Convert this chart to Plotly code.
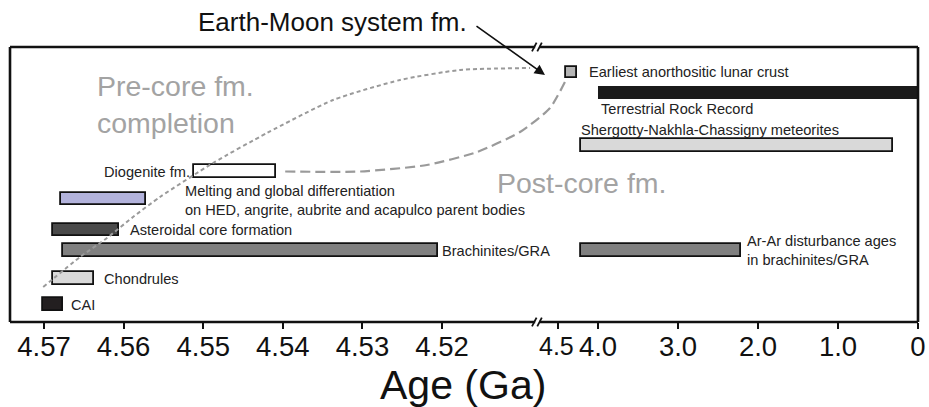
import plotly.graph_objects as go

# ---- records on the early (4.57-4.51 Ga) segment ----
early_names = ["CAI", "Chondrules", "Brachinites/GRA", "Asteroidal core formation",
               "Melting and global differentiation<br>on HED, angrite, aubrite and acapulco parent bodies",
               "Diogenite fm."]
early_start = [4.5701, 4.5689, 4.5676, 4.5689, 4.5679, 4.5512]
early_end = [4.5676, 4.5637, 4.5205, 4.5606, 4.5572, 4.5409]

# ---- records on the late (4.6-0 Ga) segment ----
late_names = ["Ar-Ar disturbance ages<br>in brachinites/GRA",
              "Shergotty-Nakhla-Chassigny meteorites",
              "Terrestrial Rock Record",
              "Earliest anorthositic lunar crust"]
late_start = [4.21, 4.21, 4.00, 4.40]
late_end = [2.21, 0.31, 0.00, 4.26]

# tick labels (4.5 is set separately, squeezed against 4.0)
early_ticks = [4.57, 4.56, 4.55, 4.54, 4.53, 4.52]
early_ticktext = ["4.57", "4.56", "4.55", "4.54", "4.53", "4.52"]
late_ticks = [4.5, 4.0, 3.0, 2.0, 1.0, 0.0]
late_ticktext = ["", "4.0", "3.0", "2.0", "1.0", "0"]
break_tick_text = "4.5"

# ---- layout: vertical lanes, colours ----
early_lanes = [17.5, 43.5, 71.5, 92, 123, 150.5]
late_lanes = [71.5, 176.5, 229.5, 250]
early_colors = ["#231f20", "#d9d9d9", "#808080", "#4a4a4a", "#b3b3dc", "#ffffff"]
late_colors = ["#808080", "#d9d9d9", "#1a1a1a", "#b5b5b5"]
late_heights = [12.5, 12.5, 13, 11]
late_linew = [1.8, 1.8, 0, 1.8]

FONT = "Liberation Sans, Arial, Helvetica, sans-serif"
GREY_TXT = "#a3a3a3"
CURVE = "#9a9a9a"
SMALL = 14.6
TICK_SIZE = 27.5

X1_DOMAIN = [0.0, 0.5804]
X1_RANGE = [4.57427, 4.50807]
X2_DOMAIN = [0.5892, 1.0]
X2_RANGE = [4.6625, 0.0]
Y_RANGE = [0, 275]


def paper_x(age, seg):
    dom, rng = (X1_DOMAIN, X1_RANGE) if seg == 1 else (X2_DOMAIN, X2_RANGE)
    return dom[0] + (age - rng[0]) / (rng[1] - rng[0]) * (dom[1] - dom[0])


fig = go.Figure()

fig.add_trace(go.Bar(
    orientation="h", y=early_lanes,
    x=[e - s for s, e in zip(early_start, early_end)], base=early_start,
    width=12.5, marker=dict(color=early_colors, line=dict(color="#111", width=1.8)),
    xaxis="x", yaxis="y", hoverinfo="skip", showlegend=False))

fig.add_trace(go.Bar(
    orientation="h", y=late_lanes,
    x=[e - s for s, e in zip(late_start, late_end)], base=late_start,
    width=late_heights, marker=dict(color=late_colors, line=dict(color="#111", width=late_linew)),
    xaxis="x2", yaxis="y", hoverinfo="skip", showlegend=False))

# guide curves, given as (segment, age, lane) waypoints
dotted_path = [(1, 4.5701, 35), (1, 4.56548, 65), (1, 4.56209, 84), (1, 4.55882, 105),
               (1, 4.55543, 125), (1, 4.54877, 159), (1, 4.54198, 189), (1, 4.53369, 222),
               (1, 4.52528, 242), (1, 4.51774, 252), (1, 4.50894, 254)]
dashed_path = [(1, 4.5397, 150.5), (1, 4.5303, 150.5), (1, 4.5219, 157), (1, 4.5156, 170),
               (1, 4.5102, 190), (2, 4.60, 214), (2, 4.3875, 244)]

for path, dash, width in [(dotted_path, "4px,3px", 2), (dashed_path, "10px,5px", 2.2)]:
    fig.add_trace(go.Scatter(
        x=[paper_x(a, s) for s, a, _ in path], y=[l for _, _, l in path],
        mode="lines", line=dict(color=CURVE, width=width, dash=dash, shape="spline", smoothing=0.6),
        xaxis="x3", yaxis="y", hoverinfo="skip", showlegend=False))

annotations = []


def label(text, x, y, xref, xanchor="left", xshift=0, yshift=0, size=SMALL, color="#222"):
    annotations.append(dict(text=text, x=x, y=y, xref=xref, yref="y", xanchor=xanchor,
                            yanchor="middle", xshift=xshift, yshift=yshift, showarrow=False,
                            align="left", font=dict(family=FONT, size=size, color=color)))


label(early_names[0], early_end[0], early_lanes[0], "x", xshift=6)
label(early_names[1], early_end[1], early_lanes[1], "x", xshift=8)
label(early_names[2], early_end[2], early_lanes[2], "x", xshift=2)
label(early_names[3], early_end[3], early_lanes[3], "x", xshift=9)
label(early_names[4], early_end[4], early_lanes[4], "x", xshift=37, yshift=-1)
label(early_names[5], early_start[5], early_lanes[5], "x", xanchor="right", xshift=-2)

label(late_names[0], late_end[0], late_lanes[0], "x2", xshift=4)
label(late_names[1], late_start[1], late_lanes[1], "x2", xshift=-2, yshift=16)
label(late_names[2], late_start[2], late_lanes[2], "x2", xshift=1, yshift=-16)
label(late_names[3], late_end[3], late_lanes[3], "x2", xshift=10)

# phase labels
label("Pre-core fm.<br>completion", 4.5642, 218, "x", xshift=5, size=28.5, color=GREY_TXT)
label("Post-core fm.", 4.5133, 139, "x", size=28.5, color=GREY_TXT)

# tick label at the break
annotations.append(dict(text=break_tick_text, x=late_ticks[0], y=0, xref="x2", yref="paper",
                        xanchor="center", yanchor="middle", yshift=-24, xshift=-1, showarrow=False,
                        font=dict(family=FONT, size=25, color="#111")))

# axis title and Earth-Moon callout
annotations.append(dict(text="Age (Ga)", x=0.499, y=-0.229, xref="paper", yref="paper",
                        showarrow=False, xanchor="center", yanchor="middle",
                        font=dict(family=FONT, size=41, color="#111")))
annotations.append(dict(text="Earth-Moon system fm.", x=0.3557, y=1.091, xref="paper", yref="paper",
                        showarrow=False, xanchor="center", yanchor="middle",
                        font=dict(family=FONT, size=26, color="#111")))
annotations.append(dict(text="", x=0.5892, y=0.8982, xref="paper", yref="paper",
                        showarrow=True, ax=-70, ay=-50, arrowhead=2, arrowsize=1.3,
                        arrowwidth=1.6, arrowcolor="#111"))

# frame with the axis break
shapes = []
FR = dict(color="#111", width=2.6)
for yy in (0, 1):
    shapes.append(dict(type="line", xref="paper", yref="paper", x0=0, x1=X1_DOMAIN[1] - 0.002,
                       y0=yy, y1=yy, line=FR))
    shapes.append(dict(type="line", xref="paper", yref="paper", x0=X2_DOMAIN[0] - 0.006, x1=1,
                       y0=yy, y1=yy, line=FR))
    for xc in (X1_DOMAIN[1] - 0.003, X2_DOMAIN[0] - 0.006):
        shapes.append(dict(type="line", xref="paper", yref="paper",
                           x0=xc - 0.0025, x1=xc + 0.0025, y0=yy - 0.016, y1=yy + 0.016,
                           line=dict(color="#111", width=1.8)))
for xx in (0, 1):
    shapes.append(dict(type="line", xref="paper", yref="paper", x0=xx, x1=xx, y0=0, y1=1, line=FR))

tickstyle = dict(ticks="outside", ticklen=6, tickwidth=2, tickcolor="#111",
                 showgrid=False, zeroline=False, showline=False, tickangle=0,
                 ticklabelstandoff=-6, automargin=False,
                 tickfont=dict(family=FONT, size=TICK_SIZE, color="#111"))

fig.update_layout(
    width=929, height=407,
    margin=dict(l=10, r=11, t=47, b=85, autoexpand=False),
    paper_bgcolor="white", plot_bgcolor="rgba(0,0,0,0)",
    barmode="overlay", bargap=0,
    xaxis=dict(domain=X1_DOMAIN, range=X1_RANGE, tickvals=early_ticks, ticktext=early_ticktext,
               anchor="y", **tickstyle),
    xaxis2=dict(domain=X2_DOMAIN, range=X2_RANGE, tickvals=late_ticks, ticktext=late_ticktext,
                anchor="y", **tickstyle),
    xaxis3=dict(domain=[0, 1], range=[0, 1], visible=False, anchor="y"),
    yaxis=dict(range=Y_RANGE, visible=False, domain=[0, 1]),
    annotations=annotations, shapes=shapes,
)

fig.write_html("out.html")
